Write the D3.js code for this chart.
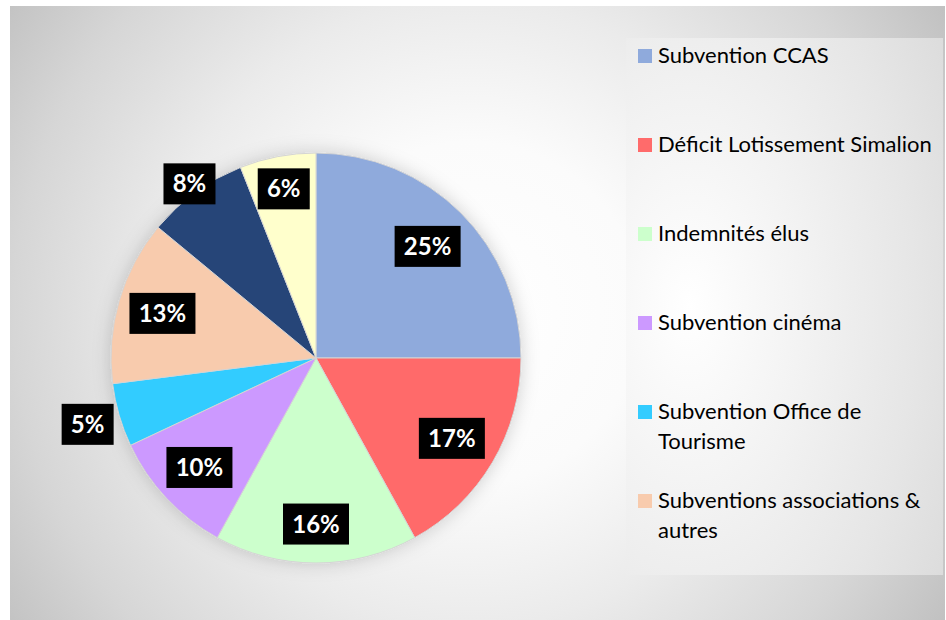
<!DOCTYPE html>
<html>
<head>
<meta charset="utf-8">
<script src="https://cdn.jsdelivr.net/npm/d3@7"></script>
<style>
  html, body { margin: 0; padding: 0; background: #ffffff; }
  svg { display: block; font-family: Lato, 'Open Sans', sans-serif; }
</style>
</head>
<body>
<svg id="chart" width="946" height="620"></svg>
<script>
// Slice data (clockwise from 12 o'clock)
const categories = [
    'Subvention CCAS',
    'Déficit Lotissement Simalion',
    'Indemnités élus',
    'Subvention cinéma',
    'Subvention Office de Tourisme',
    'Subventions associations & autres',
    'Autres charges',
    'Divers'
];
const shares = [25, 17, 16, 10, 5, 13, 8, 6];
const sliceColors = ['#8faadc', '#ff6b6b', '#ccffcc', '#cc99ff', '#33ccff', '#f8cbad', '#264478', '#ffffcc'];
// legend only shows the first six entries (rest is cut off in the original)
const legendLines = [
    ['Subvention CCAS'],
    ['Déficit Lotissement Simalion'],
    ['Indemnités élus'],
    ['Subvention cinéma'],
    ['Subvention Office de', 'Tourisme'],
    ['Subventions associations &', 'autres']
];

const width = 946, height = 620;
const svg = d3.select('#chart');
const defs = svg.append('defs');

// Background radial gradient (white centre, grey edges)
const bg = defs.append('radialGradient')
    .attr('id', 'bgGrad')
    .attr('gradientUnits', 'userSpaceOnUse')
    .attr('cx', 470).attr('cy', 313).attr('r', 570);
[[0, '#ffffff'], [0.3, '#fbfbfb'], [0.55, '#ebebeb'], [0.8, '#d6d6d6'], [1, '#c0c0c0']]
    .forEach(([o, c]) => bg.append('stop').attr('offset', o).attr('stop-color', c));

const lg = defs.append('radialGradient')
    .attr('id', 'legGrad')
    .attr('cx', 0.2).attr('cy', 0.5).attr('r', 0.95);
[[0, '#ffffff'], [0.4, '#f2f2f2'], [0.75, '#e6e6e6'], [1, '#dcdcdc']]
    .forEach(([o, c]) => lg.append('stop').attr('offset', o).attr('stop-color', c));

const shadow = defs.append('filter')
    .attr('id', 'pieShadow')
    .attr('x', '-20%').attr('y', '-20%').attr('width', '140%').attr('height', '140%');
shadow.append('feDropShadow')
    .attr('dx', 0).attr('dy', 0)
    .attr('stdDeviation', 9)
    .attr('flood-color', '#000')
    .attr('flood-opacity', 0.18);

// Chart area
svg.append('rect')
    .attr('x', 10).attr('y', 6)
    .attr('width', 935).attr('height', 614)
    .attr('fill', 'url(#bgGrad)');

// Legend box
svg.append('rect')
    .attr('x', 626).attr('y', 38)
    .attr('width', 317).attr('height', 537)
    .attr('fill', 'url(#legGrad)');

// Pie
const cx = 316, cy = 358, radius = 205;
const pie = d3.pie().sort(null).value(d => d);
const arcs = pie(shares);
const arc = d3.arc().innerRadius(0).outerRadius(radius);

const g = svg.append('g').attr('transform', `translate(${cx},${cy})`);

g.append('g')
    .attr('filter', 'url(#pieShadow)')
    .selectAll('path')
    .data(arcs)
    .join('path')
    .attr('d', arc)
    .attr('fill', (d, i) => sliceColors[i])
    .attr('stroke', '#d4d4d4')
    .attr('stroke-width', 1);

// Data labels - distance from centre as a fraction of the radius (best-fit look)
const labelDist = [0.77, 0.77, 0.81, 0.78, 1.16, 0.78, 1.05, 0.84];
const labels = g.append('g').selectAll('g')
    .data(arcs)
    .join('g')
    .attr('transform', (d, i) => {
        const a = (d.startAngle + d.endAngle) / 2;
        const r = radius * labelDist[i];
        return `translate(${r * Math.sin(a)},${-r * Math.cos(a)})`;
    });

labels.append('text')
    .attr('text-anchor', 'middle')
    .attr('dy', '0.36em')
    .attr('fill', '#ffffff')
    .attr('font-weight', 'bold')
    .attr('font-size', '24px')
    .text(d => d.data + '%');

labels.each(function () {
    const grp = d3.select(this);
    const bb = grp.select('text').node().getBBox();
    const w = Math.round(bb.width + 18);
    grp.insert('rect', 'text')
        .attr('x', -w / 2).attr('y', -20.5)
        .attr('width', w).attr('height', 41)
        .attr('fill', '#000000');
});

// Legend
const legend = svg.append('g').attr('transform', 'translate(638,0)');
const items = legend.selectAll('g')
    .data(legendLines)
    .join('g')
    .attr('transform', (d, i) => `translate(0,${56 + i * 89})`);

items.append('rect')
    .attr('x', 0).attr('y', -7)
    .attr('width', 14).attr('height', 14)
    .attr('fill', (d, i) => sliceColors[i]);

items.append('text')
    .attr('x', 20)
    .attr('y', 7)
    .attr('font-size', '22px')
    .attr('fill', '#000000')
    .selectAll('tspan')
    .data(d => d)
    .join('tspan')
    .attr('x', 20)
    .attr('dy', (d, i) => i === 0 ? 0 : 30)
    .text(d => d);
</script>
</body>
</html>
